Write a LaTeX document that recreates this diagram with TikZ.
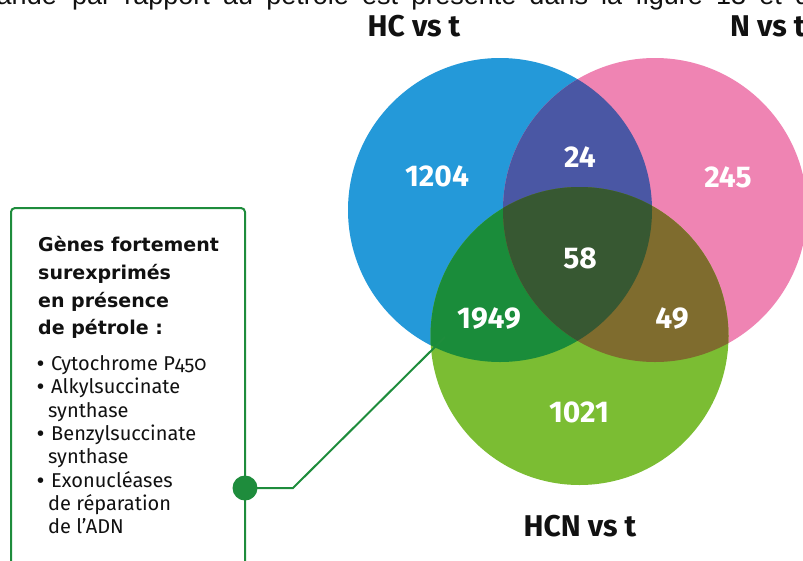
\documentclass[tikz,border=0pt]{standalone}
\usepackage{fontspec}
\setmainfont{Liberation Sans}
\newfontfamily\fira{Fira Sans}
\newfontfamily\firaonum{Fira Sans}[Numbers=OldStyle]
\newfontfamily\dvs{DejaVu Sans}
\definecolor{cblue}{HTML}{2499D9}
\definecolor{cpink}{HTML}{EF84B3}
\definecolor{cgreen}{HTML}{7BBD33}
\definecolor{cbp}{HTML}{4A57A4}
\definecolor{cbg}{HTML}{1A8C3A}
\definecolor{cpg}{HTML}{7F6C2E}
\definecolor{call}{HTML}{375832}
\definecolor{boxgreen}{HTML}{1E8C3C}
\definecolor{txt}{HTML}{111111}
\begin{document}
\begin{tikzpicture}[x=1pt,y=-1pt,
  num/.style={inner sep=0pt, text=white, font=\fira\bfseries\fontsize{30}{30}\selectfont},
  vtitle/.style={inner sep=0pt, text=txt, font=\fira\bfseries\fontsize{30}{30}\selectfont},
  headline/.style={inner sep=0pt, anchor=base west, text=txt, font=\dvs\bfseries\fontsize{19}{19}\selectfont},
  listline/.style={inner sep=0pt, anchor=base west, text=txt, font=\fira\fontsize{20}{20}\selectfont},
  bulletmark/.style={inner sep=0pt, anchor=base west, text=txt, font=\fira\bfseries\fontsize{20}{20}\selectfont},
  boxline/.style={draw=boxgreen, line width=2pt, rounded corners=4pt},
  conn/.style={draw=boxgreen, line width=2pt},
  toptext/.style={inner sep=0pt, text=txt, font=\fontsize{27}{27}\selectfont}]
\useasboundingbox (0,0) rectangle (803,560);
\clip (0,0) rectangle (803,560);
% cropped line of text at the top
\node[toptext, anchor=base east] (top0) at (57,4) {ande};
\node[toptext, anchor=base west] (top1) at (72,4) {\makebox[738pt][s]{par rapport au pétrole est présenté dans la figure 13 et d}};
% Venn circles
\coordinate (B) at (500,210);
\coordinate (P) at (655,210);
\coordinate (G) at (579.5,336);
\fill[cblue] (B) circle[radius=152pt];
\fill[cpink] (P) circle[radius=152pt];
\fill[cgreen] (G) circle[radius=149pt];
\begin{scope}
  \clip (B) circle[radius=152pt];
  \fill[cbp] (P) circle[radius=152pt];
\end{scope}
\begin{scope}
  \clip (B) circle[radius=152pt];
  \fill[cbg] (G) circle[radius=149pt];
\end{scope}
\begin{scope}
  \clip (P) circle[radius=152pt];
  \fill[cpg] (G) circle[radius=149pt];
\end{scope}
\begin{scope}
  \clip (B) circle[radius=152pt];
  \clip (P) circle[radius=152pt];
  \fill[call] (G) circle[radius=149pt];
\end{scope}
% numbers
\node[num] (n1204) at (437,176) {1204};
\node[num] (n24) at (580,157) {24};
\node[num] (n245) at (728,177) {245};
\node[num] (n58) at (580,258) {58};
\node[num] (n1949) at (489,319) {1949};
\node[num] (n49) at (672,319) {49};
\node[num] (n1021) at (579,412) {1021};
% titles
\node[vtitle, anchor=base] (thc) at (414,36) {HC vs t};
\node[vtitle, anchor=base west] (tn) at (730,36) {N vs t};
\node[vtitle, anchor=base] (thcn) at (580,536) {HCN vs t};
% box
\draw[boxline] (11,208) rectangle (245,640);
\node[headline] (h1) at (38,251.5) {Gènes fortement};
\node[headline] (h2) at (38,279) {surexprimés};
\node[headline] (h3) at (38,307) {en présence};
\node[headline] (h4) at (38,334.5) {de pétrole :};
\node[bulletmark] (b1) at (37,370) {•};
\node[listline] (l1) at (51,370) {Cytochrome P{\firaonum 450}};
\node[bulletmark] (b2) at (37,393.5) {•};
\node[listline] (l2) at (51,393.5) {Alkylsuccinate};
\node[listline] (l3) at (48,417) {synthase};
\node[bulletmark] (b3) at (37,440) {•};
\node[listline] (l4) at (51,440) {Benzylsuccinate};
\node[listline] (l5) at (48,463.5) {synthase};
\node[bulletmark] (b4) at (37,487) {•};
\node[listline] (l6) at (51,487) {Exonucléases};
\node[listline] (l7) at (48,510) {de réparation};
\node[listline] (l8) at (48,533.5) {de l’ADN};
% connector
\node[circle, fill=boxgreen, minimum size=25pt, inner sep=0pt] (dot) at (245,488) {};
\coordinate (bend) at (293,488);
\coordinate (tip) at (445,337);
\draw[conn] (dot.center) -- (bend) -- (tip);
\end{tikzpicture}
\end{document}
